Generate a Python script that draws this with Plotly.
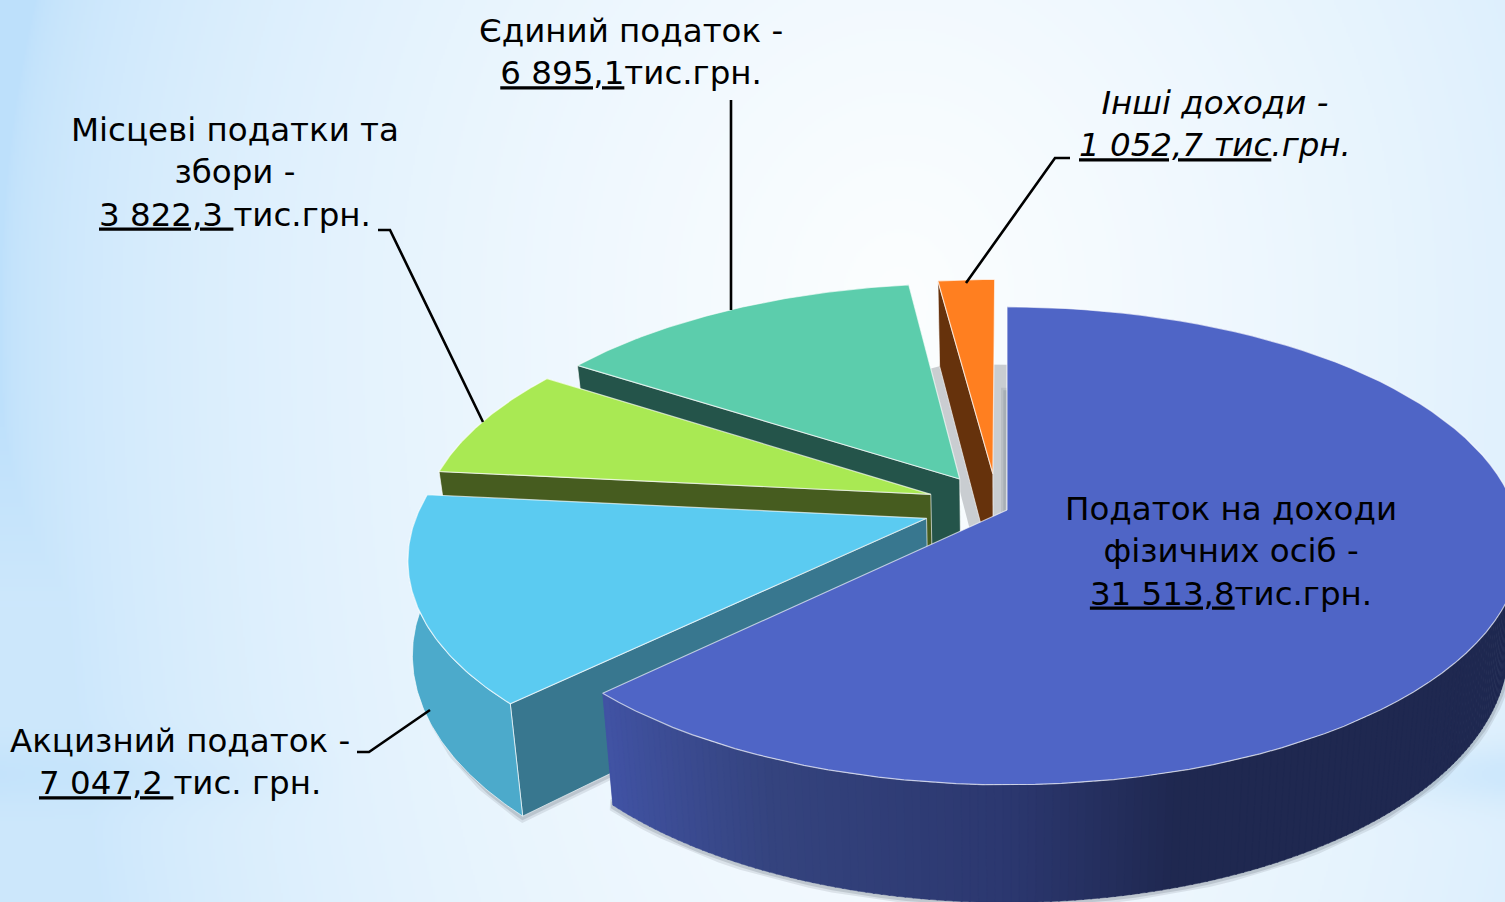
import base64, struct, zlib
import numpy as np
import plotly.graph_objects as go

# ---- data ----
categories = ["Податок на доходи фізичних осіб", "Акцизний податок", "Місцеві податки та збори",
              "Єдиний податок", "Інші доходи"]
values = [31513.8, 7047.2, 3822.3, 6895.1, 1052.7]
labels = [
    "Податок на доходи<br>фізичних осіб -<br><u>31 513,8</u>тис.грн.",
    "Акцизний податок -<br><u>7 047,2 </u>тис. грн.",
    "Місцеві податки та<br>збори -<br><u>3 822,3 </u>тис.грн.",
    "Єдиний податок -<br><u>6 895,1</u>тис.грн.",
    "<i>Інші доходи -<br><u>1 052,7 тис</u>.грн.</i>",
]
label_x = [1231, 180, 235, 631, 1215]
label_y = [551, 762, 172, 52, 124]

top_colors = ["#4F65C6", "#5BCBF1", "#A9E953", "#5CCDAC", "#FF7F20"]
wall_colors = ["#3D4D99", "#38778F", "#465C1F", "#24544A", "#66320C"]
rim_colors = ["#3D4D99", "#4CAACB", "#465C1F", "#24544A", "#66320C"]
# explosion along the slice's middle direction, plus small nudges
explode = [0.0, 0.167, 0.167, 0.167, 0.175]
nudge_u = [0.0, 0.0, 0.006, -0.006, -0.017]
nudge_v = [0.0, 0.02, 0.012, -0.006, -0.016]

# ---- projection of the tilted pie onto the page ----
CX, CY, R, B, K, H, LEAN = 1007, 510, 508, 233.6, 0.15, 100, 0.025


def proj(u, v, h=0.0, lean=LEAN):
    u, v = np.asarray(u, float), np.asarray(v, float)
    w = 1 + K * v
    x = CX + u * (1 - lean * h) * R / w
    y = CY - v * B / w + h * H / w
    return x, y


total = sum(values)
edges = np.concatenate([[0], np.cumsum(values)]) / total * 2 * np.pi


def arc(i, t0=None, t1=None, n=90):
    a = edges[i] if t0 is None else t0
    b = edges[i + 1] if t1 is None else t1
    t = np.linspace(a, b, n)
    mid = (edges[i] + edges[i + 1]) / 2
    du = explode[i] * np.sin(mid) + nudge_u[i]
    dv = explode[i] * np.cos(mid) + nudge_v[i]
    return np.sin(t) + du, np.cos(t) + dv, du, dv


fig = go.Figure()


def poly(xs, ys, color, edge=None, width=1.0):
    fig.add_trace(go.Scatter(
        x=list(xs) + [xs[0]], y=list(ys) + [ys[0]], mode="lines", fill="toself", fillcolor=color,
        line=dict(color=edge or color, width=width), hoverinfo="skip", showlegend=False))


def outline(xs, ys, color, width, closed=True):
    xs, ys = list(xs), list(ys)
    if closed:
        xs, ys = xs + [xs[0]], ys + [ys[0]]
    fig.add_trace(go.Scatter(
        x=xs, y=ys, mode="lines",
        line=dict(color=color, width=width), hoverinfo="skip", showlegend=False))


def hex2rgb(c):
    return np.array([int(c[j:j + 2], 16) for j in (1, 3, 5)], float)


EDGE = "rgba(255,255,255,0.65)"
# blue rim shading: position along the rim (deg) -> colour
rim_stops_deg = [90, 163, 180, 204, 226]
rim_stops_col = ["#1F2850", "#1F2850", "#2C3870", "#35447F", "#4254A6"]
shadow_width = {0: 12, 1: 12, 2: 6, 3: 6, 4: 24}

for i in [4, 3, 2, 1, 0]:
    u, v, du, dv = arc(i)
    xt, yt = proj(u, v)
    xa, ya = proj([du], [dv])
    xb, yb = proj(u, v, 1)
    xab, yab = proj([du], [dv], 1)

    # soft contact shadow round the foot of the slice
    w = shadow_width[i]
    if i == 4:
        # the sliver beside the small slice: its two cut edges only
        sx = [xb[0], xab[0], xb[-1]]
        sy = [yb[0], yab[0], yb[-1]]
        outline(sx, sy, "rgba(185,190,194,0.75)", w, closed=False)
    else:
        bx = list(xab) + list(xb)
        by = list(yab) + list(yb)
        outline(bx, by, "rgba(120,130,140,0.18)", w)
        outline(bx, by, "rgba(120,130,140,0.28)", w * 0.6)

    # cut wall on the low-angle side
    if i > 0:
        poly([xa[0], xt[0], xb[0], xab[0]], [ya[0], yt[0], yb[0], yab[0]], wall_colors[i], EDGE)

    # outer rim facing the viewer
    if i == 0:
        deg = np.arange(90, np.degrees(edges[1]), 0.8)
        deg = np.append(deg, np.degrees(edges[1]))
        stops = np.array([hex2rgb(c) for c in rim_stops_col])
        for d0, d1 in zip(deg[:-1], deg[1:]):
            us, vs, _, _ = arc(i, np.radians(d0), np.radians(min(d1 + 0.15, deg[-1])), 3)
            x1, y1 = proj(us, vs)
            x2, y2 = proj(us, vs, 1)
            rgb = [np.interp((d0 + d1) / 2, rim_stops_deg, stops[:, k]) for k in range(3)]
            col = "rgb(%d,%d,%d)" % tuple(rgb)
            poly(list(x1) + list(x2[::-1]), list(y1) + list(y2[::-1]), col, width=0.5)
    elif i == 1:
        us, vs, _, _ = arc(i, edges[1], np.radians(272))
        taper = np.linspace(LEAN, 0.002, len(us))
        x1, y1 = proj(us, vs)
        x2, y2 = proj(us, vs, 1, taper)
        poly(list(x1) + list(x2[::-1]), list(y1) + list(y2[::-1]), rim_colors[i], EDGE)

    # top face
    poly(list(xa) + list(xt), list(ya) + list(yt), top_colors[i], EDGE, 1.2)

# ---- leader lines ----
leaders = [
    ([1070, 1055, 966], [158, 158, 283]),
    ([731, 731], [100, 310]),
    ([378, 390, 483], [230, 230, 422]),
    ([357, 369, 430], [752, 752, 710]),
]
for lx, ly in leaders:
    fig.add_trace(go.Scatter(x=lx, y=ly, mode="lines", line=dict(color="black", width=2.6),
                             hoverinfo="skip", showlegend=False))

for t, x, y in zip(labels, label_x, label_y):
    fig.add_annotation(x=x, y=y, xref="x", yref="y", text=t, showarrow=False, align="center",
                       xanchor="center", yanchor="middle",
                       font=dict(family="DejaVu Sans", size=32.5, color="black"))


# ---- background picture (soft blue glow) ----
def png_uri(rgb):
    h, w, _ = rgb.shape
    raw = b"".join(b"\x00" + rgb[r].tobytes() for r in range(h))

    def chunk(tag, d):
        return struct.pack(">I", len(d)) + tag + d + struct.pack(">I", zlib.crc32(tag + d) & 0xffffffff)
    data = b"\x89PNG\r\n\x1a\n" + chunk(b"IHDR", struct.pack(">IIBBBBB", w, h, 8, 2, 0, 0, 0)) + \
        chunk(b"IDAT", zlib.compress(raw)) + chunk(b"IEND", b"")
    return "data:image/png;base64," + base64.b64encode(data).decode()


gx, gy = np.meshgrid(np.linspace(0, 1505, 752), np.linspace(0, 902, 451))
yscale = np.where(gy > 300, 2000.0, 1100.0)
dist = np.hypot((gx - 900) / 900, (gy - 300) / yscale)
glow = np.clip(1 - dist, 0, 1) ** 0.5
glow = np.maximum(glow, 0.25 * np.clip((gy - 400) / 200, 0, 1))
edge_col = np.array([189, 224, 251.0])
white = np.array([252, 254, 255.0])
img = edge_col + (white - edge_col)[None, None, :] * glow[..., None]
band = np.exp(-((gy - 775) / 30) ** 2) * (np.clip((350 - gx) / 350, 0, 1) + np.clip((gx - 1300) / 200, 0, 1)) * 0.5
img = img + (edge_col - img) * band[..., None]
img = np.clip(img, 0, 255).astype(np.uint8)

fig.update_layout(
    width=1505, height=902, margin=dict(l=0, r=0, t=0, b=0), autosize=False,
    paper_bgcolor="white", plot_bgcolor="rgba(0,0,0,0)", showlegend=False,
    xaxis=dict(range=[0, 1505], visible=False, fixedrange=True),
    yaxis=dict(range=[902, 0], visible=False, fixedrange=True),
    images=[dict(source=png_uri(img), xref="paper", yref="paper", x=0, y=1, sizex=1, sizey=1,
                 sizing="stretch", layer="below", xanchor="left", yanchor="top")],
)

fig.write_html("out.html", config={"displayModeBar": False},
               post_script="document.body.style.margin='0';document.body.style.overflow='hidden';"
                           "var s=document.createElement('style');"
                           "s.textContent='text,tspan{text-decoration-skip-ink:none}';"
                           "document.head.appendChild(s);")
